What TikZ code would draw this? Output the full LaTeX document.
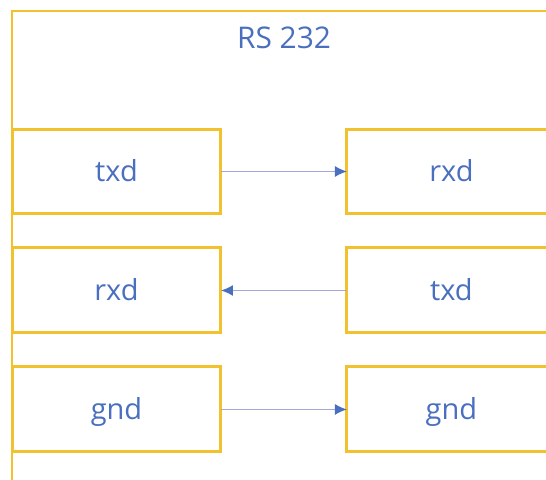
\documentclass[tikz,border=0pt]{standalone}
\usepackage{fontspec}
\setmainfont{Open Sans}
\usetikzlibrary{arrows.meta,positioning}
\definecolor{boxgold}{HTML}{F2C12E}
\definecolor{pinblue}{HTML}{4A6FBE}
\definecolor{wirelilac}{HTML}{A3A8D6}

\begin{document}
\begin{tikzpicture}[x=0.02cm,y=-0.02cm,
 pin/.style={draw=boxgold,line width=1.7pt,outer sep=0pt,inner sep=0pt,
   minimum width=4.18cm,minimum height=1.7cm,text=pinblue,
   text height=1.15em,text depth=0pt,
   font=\fontsize{16.5}{18}\selectfont},
 wire/.style={-{Latex[length=2.4mm,width=2.2mm,color=pinblue]},
   line width=0.8pt,draw=wirelilac},
 node distance=0.68cm and 2.52cm]
 \useasboundingbox (0,0) rectangle (546,479);
 \clip (0,0) rectangle (546,479);
 \draw[draw=boxgold,line width=1.7pt] (12,11) rectangle (640,560);
 \node[text=pinblue,font=\fontsize{17}{20}\selectfont] (title) at (284,38) {RS 232};
 \node[pin] (txdA) at (116.5,171.5) {txd};
 \node[pin,below=of txdA] (rxdA) {rxd};
 \node[pin,below=of rxdA] (gndA) {gnd};
 \node[pin,right=of txdA] (rxdB) {rxd};
 \node[pin,right=of rxdA] (txdB) {txd};
 \node[pin,right=of gndA] (gndB) {gnd};
 \draw[wire] (txdA)--(rxdB);
 \draw[wire] (txdB)--(rxdA);
 \draw[wire] (gndA)--(gndB);
\end{tikzpicture}
\end{document}
